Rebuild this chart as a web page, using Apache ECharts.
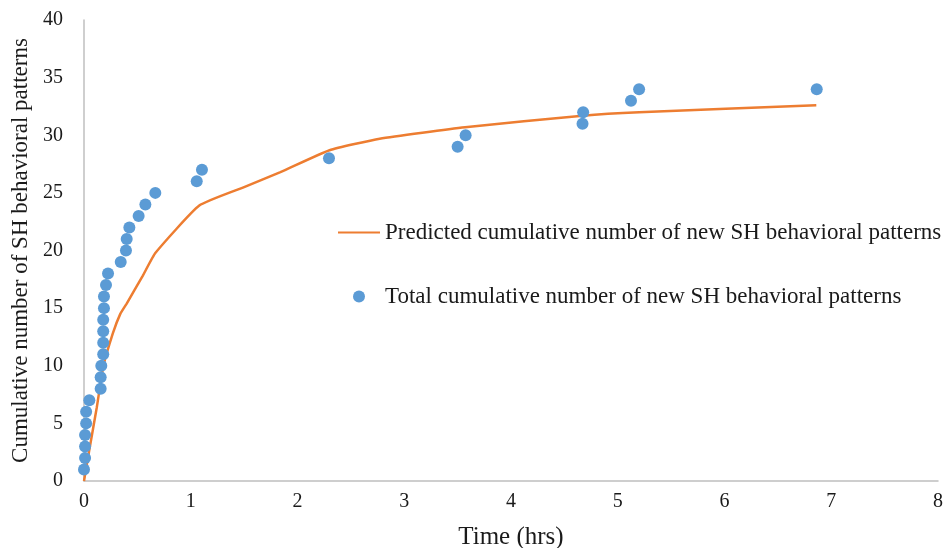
<!DOCTYPE html>
<html>
<head>
<meta charset="utf-8">
<script src="https://cdn.jsdelivr.net/npm/echarts@6/dist/echarts.min.js"></script>
<style>
  html, body { margin: 0; padding: 0; background: #fff; }
  #chart { width: 950px; height: 548px; }
</style>
</head>
<body>
<div id="chart"></div>
<script>
// observed cumulative count vs time (hrs)
var obsTime = [0.0, 0.01, 0.01, 0.01, 0.02, 0.02, 0.05, 0.156, 0.156, 0.162, 0.18, 0.18, 0.18, 0.18,
  0.187, 0.187, 0.206, 0.225, 0.344, 0.393, 0.40, 0.425, 0.512, 0.575, 0.668, 1.056, 1.105,
  2.295, 3.50, 3.575, 4.67, 4.676, 5.124, 5.20, 6.864];
var obsCount = [1, 2, 3, 4, 5, 6, 7, 8, 9, 10, 11, 12, 13, 14, 15, 16, 17, 18, 19, 20, 21, 22, 23, 24, 25,
  26, 27, 28, 29, 30, 31, 32, 33, 34, 34];

// predicted curve
var predTime = [0, 0.05, 0.12, 0.18, 0.27, 0.34, 0.40, 0.55, 0.67, 1.08, 1.5, 1.84, 2.3, 2.77, 3.57, 4.67, 5.2, 6.86];
var predCount = [0, 2.7, 6.4, 9.9, 12.8, 14.5, 15.4, 17.8, 19.8, 23.9, 25.5, 26.8, 28.7, 29.7, 30.7, 31.7, 32.0, 32.6];

var xTicks = [0, 1, 2, 3, 4, 5, 6, 7, 8];
var yTicks = [0, 5, 10, 15, 20, 25, 30, 35, 40];

var lineName = 'Predicted cumulative number of new SH behavioral patterns';
var dotName = 'Total cumulative number of new SH behavioral patterns';

var obsData = obsTime.map(function (t, i) { return [t, obsCount[i]]; });
var predData = predTime.map(function (t, i) { return [t, predCount[i]]; });

var serif = '"Liberation Serif", "Times New Roman", serif';

var chart = echarts.init(document.getElementById('chart'));
chart.setOption({
  animation: false,
  textStyle: { fontFamily: serif },
  grid: { left: 84, right: 12, top: 20, bottom: 67, outerBoundsMode: 'none', containLabel: false },
  legend: {
    orient: 'vertical',
    left: 333,
    top: 216,
    itemGap: 41,
    itemWidth: 42,
    itemHeight: 12,
    textStyle: { fontFamily: serif, fontSize: 23, color: '#1a1a1a' },
    data: [
      { name: lineName, icon: 'path://M0,5 L42,5 L42,7 L0,7 Z' },
      { name: dotName, icon: 'circle' }
    ]
  },
  xAxis: {
    type: 'value',
    min: xTicks[0],
    max: xTicks[xTicks.length - 1],
    interval: 1,
    name: 'Time (hrs)',
    nameLocation: 'middle',
    nameGap: 44,
    nameTextStyle: { fontFamily: serif, fontSize: 25, color: '#1a1a1a' },
    axisLine: { lineStyle: { color: '#bfbfbf', width: 1.5 } },
    axisTick: { show: false },
    splitLine: { show: false },
    axisLabel: { fontFamily: serif, fontSize: 20, color: '#1a1a1a', margin: 11 }
  },
  yAxis: {
    type: 'value',
    min: yTicks[0],
    max: yTicks[yTicks.length - 1],
    interval: 5,
    name: 'Cumulative number of SH behavioral patterns',
    nameLocation: 'middle',
    nameGap: 51,
    nameTextStyle: { fontFamily: serif, fontSize: 23, color: '#1a1a1a' },
    axisLine: { show: true, lineStyle: { color: '#bfbfbf', width: 1.5 } },
    axisTick: { show: false },
    splitLine: { show: false },
    axisLabel: { fontFamily: serif, fontSize: 20, color: '#1a1a1a', margin: 21 }
  },
  series: [
    {
      name: lineName,
      type: 'line',
      data: predData,
      symbol: 'none',
      smooth: 0.15,
      lineStyle: { color: '#ed7d31', width: 2.5 },
      itemStyle: { color: '#ed7d31' },
      z: 2
    },
    {
      name: dotName,
      type: 'scatter',
      data: obsData,
      symbolSize: 12,
      itemStyle: { color: '#5b9bd5', opacity: 1 },
      z: 3
    }
  ]
});
</script>
</body>
</html>
